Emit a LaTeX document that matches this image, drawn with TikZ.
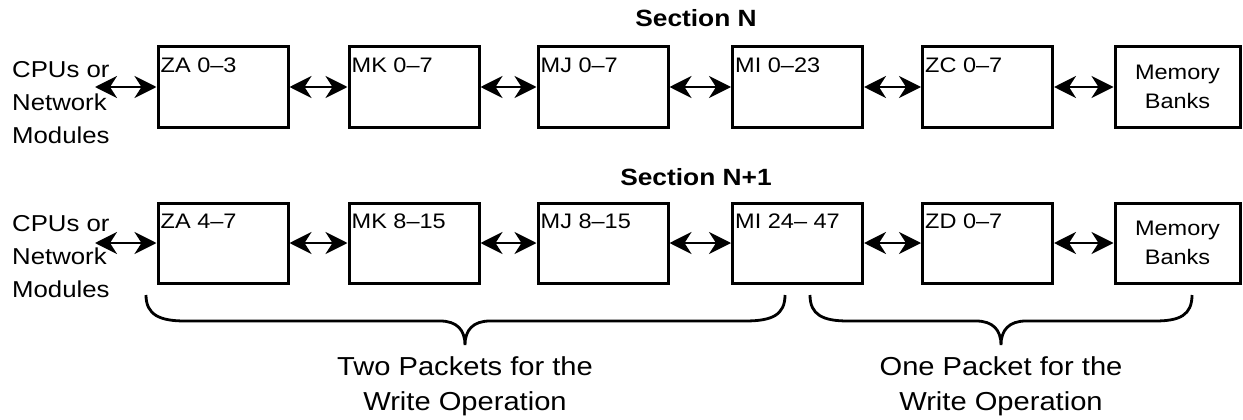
\documentclass[tikz,border=0pt]{standalone}
\usepackage{fontspec}
\setmainfont{Liberation Sans}[FakeStretch=1.12]
\usetikzlibrary{arrows.meta,calc}
\begin{document}
\begin{tikzpicture}[x=1pt,y=-1pt,
  box/.style={draw, line width=3pt, minimum width=130pt, minimum height=80pt, inner sep=0pt},
  lbl/.style={anchor=base west, inner sep=0pt, font=\fontsize{21}{25}\selectfont},
  side/.style={anchor=base west, inner sep=0pt, align=left, font=\fontsize{23}{33}\selectfont},
  sec/.style={anchor=base, inner sep=0pt, font=\fontsize{23.5}{28}\selectfont\bfseries},
  note/.style={anchor=base, inner sep=0pt, align=center, font=\fontsize{26}{35}\selectfont},
  arr/.style={line width=2.4pt, {Stealth[length=22pt,width=22pt,inset=7pt]}-{Stealth[length=22pt,width=22pt,inset=7pt]}},
  brace/.style={line width=2.8pt}]
\useasboundingbox (0,0) rectangle (1243,420);

% Section N
\node[sec] (secN) at (696,27) {Section N};
\node[side] (cpu1) at (12,143) {CPUs or\\Network\\Modules};
\coordinate (c1) at (95,87);
\node[box] (za1) at (223,87) {};
\node[box] (mk1) at (414,87) {};
\node[box] (mj1) at (603,87) {};
\node[box] (mi1) at (797.5,87) {};
\node[box] (zc1) at (987.5,87) {};
\node[box, minimum width=125pt, align=center, font=\fontsize{21}{29}\selectfont] (mem1) at (1177.5,87) {Memory\\Banks};
\node[lbl] (za1t) at ($(za1.north west)+(4,27)$) {ZA 0–3};
\node[lbl] (mk1t) at ($(mk1.north west)+(4,27)$) {MK 0–7};
\node[lbl] (mj1t) at ($(mj1.north west)+(4,27)$) {MJ 0–7};
\node[lbl] (mi1t) at ($(mi1.north west)+(4,27)$) {MI 0–23};
\node[lbl] (zc1t) at ($(zc1.north west)+(4,27)$) {ZC 0–7};
\draw[arr] (c1) -- (za1.west);
\draw[arr] (za1) -- (mk1);
\draw[arr] (mk1) -- (mj1);
\draw[arr] (mj1) -- (mi1);
\draw[arr] (mi1) -- (zc1);
\draw[arr] (zc1) -- (mem1);

% Section N+1
\node[sec] (secN1) at (696,185) {Section N+1};
\node[side] (cpu2) at (12,297) {CPUs or\\Network\\Modules};
\coordinate (c2) at (95,243);
\node[box] (za2) at (223,243) {};
\node[box] (mk2) at (414,243) {};
\node[box] (mj2) at (603,243) {};
\node[box] (mi2) at (797.5,243) {};
\node[box] (zd2) at (987.5,243) {};
\node[box, minimum width=125pt, align=center, font=\fontsize{21}{29}\selectfont] (mem2) at (1177.5,243) {Memory\\Banks};
\node[lbl] (za2t) at ($(za2.north west)+(4,27)$) {ZA 4–7};
\node[lbl] (mk2t) at ($(mk2.north west)+(4,27)$) {MK 8–15};
\node[lbl] (mj2t) at ($(mj2.north west)+(4,27)$) {MJ 8–15};
\node[lbl] (mi2t) at ($(mi2.north west)+(4,27)$) {MI 24– 47};
\node[lbl] (zd2t) at ($(zd2.north west)+(4,27)$) {ZD 0–7};
\draw[arr] (c2) -- (za2.west);
\draw[arr] (za2) -- (mk2);
\draw[arr] (mk2) -- (mj2);
\draw[arr] (mj2) -- (mi2);
\draw[arr] (mi2) -- (zd2);
\draw[arr] (zd2) -- (mem2);

% braces
\draw[brace] (146,295) .. controls (146,315) and (160,321) .. (185,321) -- (440,321)
  .. controls (457,321) and (465,330) .. (465,345)
  .. controls (465,330) and (473,321) .. (490,321) -- (745,321)
  .. controls (772,321) and (785,315) .. (785,295);
\draw[brace] (810,295) .. controls (810,315) and (823,321) .. (848,321) -- (976,321)
  .. controls (993,321) and (1001,330) .. (1001,345)
  .. controls (1001,330) and (1009,321) .. (1026,321) -- (1155,321)
  .. controls (1180,321) and (1192,315) .. (1192,295);
\node[note] (n1) at (465,410) {Two Packets for the\\Write Operation};
\node[note] (n2) at (1001,410) {One Packet for the\\Write Operation};
\end{tikzpicture}
\end{document}
